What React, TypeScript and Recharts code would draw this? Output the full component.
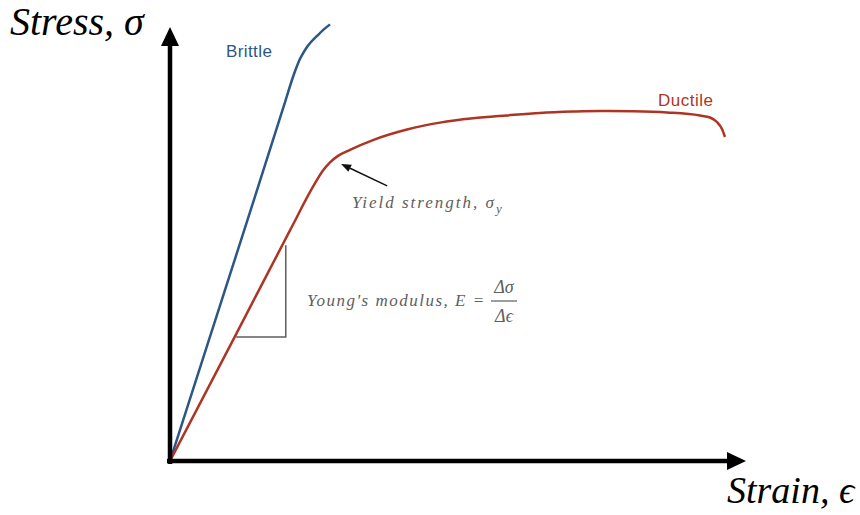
import { LineChart, Line, XAxis, YAxis, ReferenceLine, Customized } from 'recharts'

// strain / stress in arbitrary units (0..100 on both axes)
const brittleStrain = [0, 13.0, 20.0, 21.35, 21.88, 22.4, 22.92, 23.61, 24.48, 25.52, 26.56, 27.78]
const brittleStress = [0, 52.2, 80.6, 86.1, 88.0, 89.7, 91.0, 92.5, 93.95, 95.3, 96.6, 97.9]

const ductileStrain = [0, 11.46, 20.83, 24.83, 26.56, 27.78, 29.17, 31.25, 35.24, 41.15, 46.88, 52.6, 58.51, 64.24, 69.97, 74.65, 80.38, 86.28, 92.01, 93.75, 94.97, 95.83, 96.35]
const ductileStress = [0, 28.4, 51.7, 61.5, 65.13, 66.96, 68.42, 69.77, 71.96, 74.32, 75.87, 76.84, 77.49, 78.05, 78.35, 78.48, 78.41, 78.14, 77.47, 77.02, 76.01, 74.44, 72.65]

// slope triangle under the elastic part of the ductile curve
const slopeStrain = [11.5, 20.1, 20.1]
const slopeStress = [27.8, 27.8, 48.4]

// yield strength pointer: tail -> head
const yieldArrowFrom = { x: 37.7, y: 61.7 }
const yieldArrowTo = { x: 29.7, y: 66.6 }

const BLUE = '#2c5687'
const RED = '#ad3524'
const GRAY = '#5e5e5e'

const zip = (xs: number[], ys: number[]) => xs.map((x, i) => ({ x, y: ys[i] }))

const brittle = zip(brittleStrain, brittleStress)
const ductile = zip(ductileStrain, ductileStress)
const slope = zip(slopeStrain, slopeStress)

type Seg = { x1: number; y1: number; x2: number; y2: number }

// thick black axis with a filled triangle at its end
function AxisArrow(props: any) {
  const { x1, y1, x2, y2 } = props as Seg
  const dx = x2 - x1
  const dy = y2 - y1
  const len = Math.hypot(dx, dy)
  const ux = dx / len
  const uy = dy / len
  const head = 19
  const half = 9
  const bx = x2 - ux * head
  const by = y2 - uy * head
  return (
    <g>
      <line x1={x1 - ux * 3} y1={y1 - uy * 3} x2={bx + ux * 2} y2={by + uy * 2} stroke="#000" strokeWidth={4.5} />
      <polygon
        points={`${x2},${y2} ${bx - uy * half},${by + ux * half} ${bx + uy * half},${by - ux * half}`}
        fill="#000"
      />
    </g>
  )
}

function Pointer(props: any) {
  const { x1, y1, x2, y2 } = props as Seg
  const dx = x2 - x1
  const dy = y2 - y1
  const len = Math.hypot(dx, dy)
  const ux = dx / len
  const uy = dy / len
  const head = 10
  const half = 4
  const bx = x2 - ux * head
  const by = y2 - uy * head
  return (
    <g>
      <line x1={x1} y1={y1} x2={bx} y2={by} stroke="#111" strokeWidth={1.4} />
      <polygon
        points={`${x2},${y2} ${bx - uy * half},${by + ux * half} ${bx + uy * half},${by - ux * half}`}
        fill="#111"
      />
    </g>
  )
}

const serif = '"Liberation Serif", "Times New Roman", serif'
const sans = '"Liberation Sans", Arial, sans-serif'

function Labels() {
  return (
    <g>
      <text x={10} y={35} fontFamily={serif} fontStyle="italic" fontSize={40} fill="#000">
        Stress, σ
      </text>
      <text x={727} y={503} fontFamily={serif} fontStyle="italic" fontSize={38} fill="#000">
        Strain, ϵ
      </text>
      <text x={226} y={57} fontFamily={sans} fontSize={17} fill={BLUE} letterSpacing={0.4}>
        Brittle
      </text>
      <text x={658} y={106} fontFamily={sans} fontSize={17} fill={RED} letterSpacing={0.5}>
        Ductile
      </text>
      <text x={352} y={208} fontFamily={serif} fontStyle="italic" fontSize={17} fill={GRAY} letterSpacing={2}>
        Yield strength, σ
        <tspan dy={5} fontSize={13} letterSpacing={0}>y</tspan>
      </text>
      <text x={307} y={306} fontFamily={serif} fontStyle="italic" fontSize={17} fill={GRAY} letterSpacing={1.5}>
        Young's modulus, E =
      </text>
      <text x={504} y={293} textAnchor="middle" fontFamily={serif} fontStyle="italic" fontSize={18} fill={GRAY}>
        Δσ
      </text>
      <line x1={491} y1={301} x2={517} y2={301} stroke={GRAY} strokeWidth={1.2} />
      <text x={504} y={322} textAnchor="middle" fontFamily={serif} fontStyle="italic" fontSize={18} fill={GRAY}>
        Δϵ
      </text>
    </g>
  )
}

export default function App() {
  return (
    <div style={{ position: 'absolute', left: 0, top: 0, width: 860, height: 515, background: '#fff' }}>
      <LineChart width={860} height={515} margin={{ top: 15, right: 114, bottom: 54, left: 170 }}>
        <XAxis type="number" dataKey="x" domain={[0, 100]} hide allowDataOverflow />
        <YAxis type="number" dataKey="y" domain={[0, 100]} hide allowDataOverflow />
        <Line data={slope} dataKey="y" type="linear" stroke={GRAY} strokeWidth={1.5} dot={false} isAnimationActive={false} />
        <Line data={brittle} dataKey="y" type="monotone" stroke={BLUE} strokeWidth={2.5} dot={false} isAnimationActive={false} />
        <Line data={ductile} dataKey="y" type="monotone" stroke={RED} strokeWidth={2.5} dot={false} isAnimationActive={false} />
        <ReferenceLine segment={[{ x: 0, y: 0 }, { x: 100, y: 0 }]} shape={AxisArrow} ifOverflow="visible" />
        <ReferenceLine segment={[{ x: 0, y: 0 }, { x: 0, y: 97.3 }]} shape={AxisArrow} ifOverflow="visible" />
        <ReferenceLine segment={[yieldArrowFrom, yieldArrowTo]} shape={Pointer} ifOverflow="visible" />
        <Customized component={Labels} />
      </LineChart>
    </div>
  )
}
